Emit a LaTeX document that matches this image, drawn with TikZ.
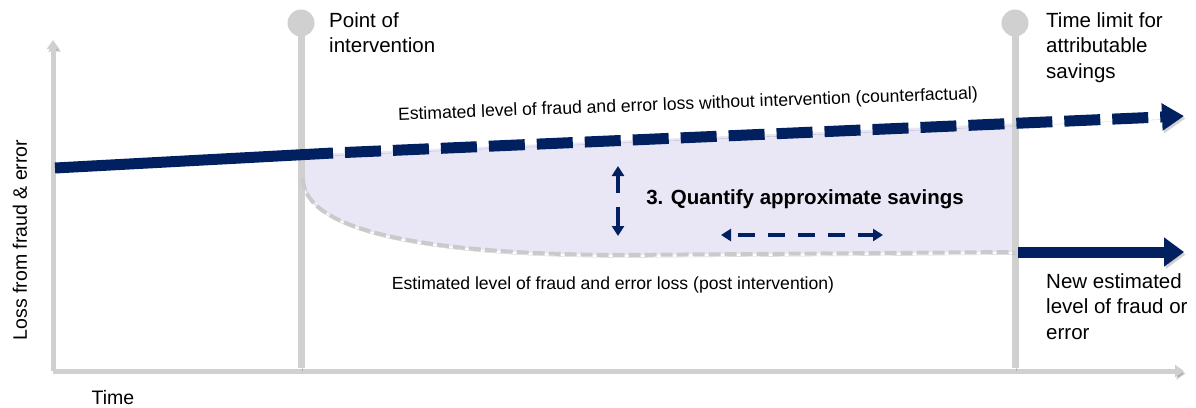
\documentclass[tikz,border=0pt]{standalone}
\usepackage{fontspec}
\setmainfont{Liberation Sans}
\usetikzlibrary{arrows.meta}
\definecolor{navy}{RGB}{0,32,96}
\definecolor{axisgray}{RGB}{208,208,208}
\definecolor{savefill}{RGB}{233,231,245}
\definecolor{postgray}{RGB}{202,202,202}

\begin{document}
\begin{tikzpicture}[x=1pt,y=-1pt,
  shade/.style={preaction={draw=black,opacity=0.18,
      transform canvas={xshift=1.5pt,yshift=-2.5pt}}},
  axisline/.style={draw=axisgray,line width=5pt,shade,
      -{Triangle[length=9pt,width=12pt]}},
  markerline/.style={draw=axisgray,line width=7pt,shade},
  markerpin/.style={circle,fill=axisgray,minimum size=27pt,inner sep=0pt},
  trendline/.style={draw=navy,line width=11pt,shade},
  savearrow/.style={draw=navy,line width=3.5pt,
      -{Triangle[length=10pt,width=12pt]}},
  biglabel/.style={font=\fontsize{20.5}{25.5}\selectfont,inner sep=0pt,align=left},
  linelabel/.style={font=\fontsize{17.6}{21}\selectfont,inner sep=0pt},
]
\useasboundingbox[fill=white] (0,0) rectangle (1196,407);

% savings region between the two estimates
\fill[savefill] (303,154.6) -- (1015,123.3) -- (1015,252) -- (620,255)
  .. controls (420,254) and (303,230) .. (303,178) -- cycle;

% axes
\coordinate (origin) at (53,371);
\coordinate (ytip) at (53,40);
\coordinate (xtip) at (1184,371);
\draw[axisline] (origin) -- (ytip);
\draw[axisline] (origin) -- (xtip);

% milestone markers
\coordinate (poibase) at (301,368);
\coordinate (tlbase) at (1015,368);
\draw[markerline] (301,23) -- (poibase);
\draw[markerline] (1015,23) -- (tlbase);
\node[markerpin] (poi) at (301,23) {};
\node[markerpin] (tl) at (1015,23) {};

% post-intervention estimate
\coordinate (poststart) at (303,178);
\coordinate (postflat) at (620,255);
\coordinate (postend) at (1015,252);
\draw[postgray,line width=4pt,dash pattern=on 12pt off 4pt,shade]
  (poststart) .. controls (303,230) and (420,254) .. (postflat) -- (postend);

% counterfactual trend
\coordinate (trendstart) at (55,168);
\coordinate (trendsplit) at (333,153);
\coordinate (trendtip) at (1184,116);
\draw[trendline] (trendstart) -- (trendsplit);
\draw[trendline,dash pattern=on 36pt off 12pt,dash phase=36pt,
  -{Triangle[length=22pt,width=26pt]}] (trendsplit) -- (trendtip);

% new level after the time limit
\coordinate (newstart) at (1018,252);
\coordinate (newtip) at (1184,252);
\draw[trendline,-{Triangle[length=20pt,width=28pt]}] (newstart) -- (newtip);

% savings indicators
\coordinate (upfrom) at (618,193);
\coordinate (upto) at (618,166);
\coordinate (downfrom) at (618,207);
\coordinate (downto) at (618,236);
\draw[savearrow] (upfrom) -- (upto);
\draw[savearrow] (downfrom) -- (downto);
\coordinate (spanleft) at (721,235);
\coordinate (spanright) at (883,235);
\draw[draw=navy,line width=3.5pt,dash pattern=on 17pt off 13pt,dash phase=-8pt,
  {Triangle[length=10pt,width=12pt]}-{Triangle[length=10pt,width=12pt]}]
  (spanleft) -- (spanright);

% labels
\node[biglabel,anchor=north west] (poitext) at (329,12) {Point of\\intervention};
\node[biglabel,anchor=north west] (tltext) at (1046,12) {Time limit for\\attributable\\savings};
\node[biglabel,anchor=north west] (newtext) at (1046,273) {New estimated\\level of fraud or\\error};
\node[biglabel,font=\fontsize{20.5}{24}\selectfont\bfseries] (savetext) at (805,199)
  {3. Quantify approximate savings};
\node[linelabel,rotate=2.1] (cftext) at (688,105)
  {Estimated level of fraud and error loss without intervention (counterfactual)};
\node[linelabel] (posttext) at (613,285)
  {Estimated level of fraud and error loss (post intervention)};
\node[biglabel,font=\fontsize{19.5}{24}\selectfont,rotate=90] (ylabel) at (20,240)
  {Loss from fraud \& error};
\node[biglabel,font=\fontsize{19.5}{24}\selectfont] (xlabel) at (113,398) {Time};
\end{tikzpicture}
\end{document}
